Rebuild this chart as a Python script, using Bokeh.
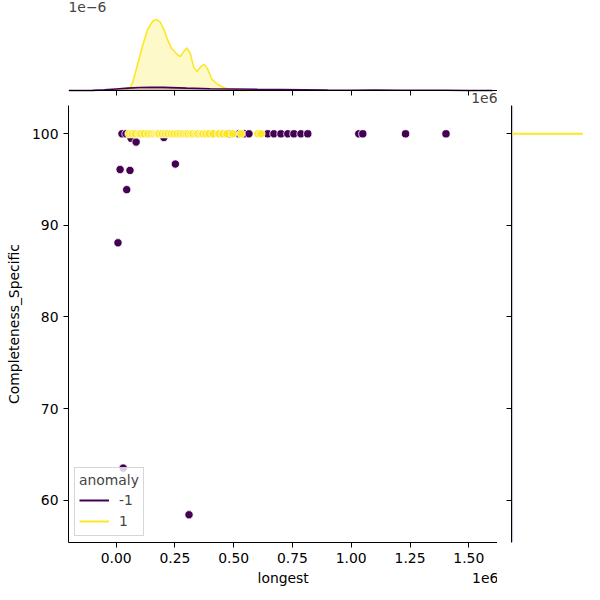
from bokeh.plotting import figure
from bokeh.layouts import column, row
from bokeh.models import Range1d, FixedTicker, Label, Legend, LegendItem, LinearAxis
from bokeh.embed import file_html
from bokeh.resources import INLINE

PURPLE = "#440154"
YELLOW = "#fde725"
FONT = "DejaVu Sans"
FS = "13.9px"
NAN = float("nan")
NBSP = "\u00a0"

# ---------------- data ----------------
# anomaly = -1
neg_longest = [25000, 42000, 412000, 446000, 480000, 522000, 544000, 565000, 645000,
               671000, 701000, 730000, 756000, 786000, 815000, 1032000, 1049000,
               1231000, 1403000,
               17000, 8000, 30000, 310000, 252000, 59000, 45000, 64000, 85000, 203000]
neg_complete = [100] * 19 + [96.1, 88.1, 63.5, 58.4, 96.7, 96.0, 93.9, 99.5, 99.1, 99.6]

# anomaly = 1
pos_longest = [55000, 68000, 81000, 98000, 106000, 119000, 135000, 149000, 161000,
               170000, 177000, 183000, 195000, 208000, 220000, 234000, 246000, 259000,
               272000, 285000, 297000, 306000, 318000, 327000, 340000, 348000, 361000,
               369000, 382000, 395000, 412000, 437000, 454000, 471000, 496000, 531000,
               603000, 616000]
pos_complete = [100] * len(pos_longest)

# marginal density of "longest" (units of 1e-6)
kde_pos_x = [20000, 42000, 60000, 71000, 92000, 113000, 135000, 156000, 170000, 188000,
             205000, 220000, 237000, 255000, 272000, 286000, 301000, 316000, 330000,
             344000, 361000, 375000, 389000, 406000, 432000, 460000, 488000, 531000, 560000]
kde_pos_y = [0.0, 0.01, 0.10, 0.28, 0.89, 1.50, 2.06, 2.31, 2.37, 2.28,
             2.00, 1.67, 1.39, 1.24, 1.13, 1.28, 1.42, 1.22, 0.78,
             0.63, 0.80, 0.87, 0.72, 0.39, 0.20, 0.09, 0.02, 0.0, 0.0]
kde_neg_x = [-200000, -100000, -50000, 0, 50000, 100000, 150000, 200000, 300000, 400000,
             500000, 600000, 700000, 800000, 900000, 1000000, 1100000, 1200000,
             1300000, 1400000, 1500000, 1600000]
kde_neg_y = [0.0, 0.005, 0.02, 0.05, 0.08, 0.10, 0.11, 0.105, 0.08, 0.06,
             0.05, 0.04, 0.035, 0.025, 0.012, 0.01, 0.012, 0.01, 0.008, 0.006, 0.002, 0.0]

# marginal density of "Completeness_Specific" (relative units)
kde_right_pos_y = [100, 100]
kde_right_pos_d = [0.0, 1.0]
kde_right_neg_y = [55.4, 103.1]
kde_right_neg_d = [0.012, 0.012]

x_ticks = [0, 250000, 500000, 750000, 1000000, 1250000, 1500000]
x_tick_labels = ["0.00", "0.25", "0.50", "0.75", "1.00", "1.25", "1.50"]
y_ticks = [60, 70, 80, 90, 100]
y_tick_labels = ["60", "70", "80", "90", "100"]

X_MIN, X_MAX = -202500, 1622000
Y_MIN, Y_MAX = 55.37, 103.09

xr = Range1d(X_MIN, X_MAX)
yr = Range1d(Y_MIN, Y_MAX)


def style_axis(ax, ticks, labels=None):
    ax.ticker = FixedTicker(ticks=ticks)
    ax.axis_line_color = "black"
    ax.axis_line_width = 1
    ax.major_tick_line_color = "black"
    ax.major_tick_line_width = 1
    ax.major_tick_out = 5
    ax.major_tick_in = 0
    ax.minor_tick_out = 0
    ax.minor_tick_in = 0
    ax.major_label_text_font = FONT
    ax.major_label_text_font_size = FS
    ax.major_label_text_color = "black"
    ax.axis_label_text_font = FONT
    ax.axis_label_text_font_style = "normal"
    ax.axis_label_text_font_size = FS
    ax.axis_label_text_color = "black"
    if labels is not None:
        ax.major_label_overrides = dict(zip(ticks, labels))
        ax.major_label_standoff = 5
    else:
        # marginal axes: tick marks only, no tick labels
        ax.major_label_overrides = {t: "" for t in ticks}
        ax.major_label_standoff = 0


# ---------------- main ----------------
p = figure(width=497, height=495, x_range=xr, y_range=yr,
           output_backend="svg", toolbar_location=None,
           min_border_left=68, min_border_right=0, min_border_top=0, min_border_bottom=58)
p.grid.visible = False
p.outline_line_color = None
style_axis(p.xaxis[0], x_ticks, x_tick_labels)
style_axis(p.yaxis[0], y_ticks, y_tick_labels)
# axis label "longest" (centred) with the offset text "1e6" at the right end of the same line
p.xaxis.axis_label = NBSP * 43 + "longest" + NBSP * 37 + "1e6"
p.xaxis.axis_label_standoff = 4
p.yaxis.axis_label = "Completeness_Specific"
p.yaxis.axis_label_standoff = 7

p.scatter(neg_longest, neg_complete, size=8.3, fill_color=PURPLE, line_color="white", line_width=0.8)
p.scatter(pos_longest, pos_complete, size=8.3, fill_color=YELLOW, line_color="white", line_width=0.8)

# legend proxies (NaN data: nothing drawn in the plot area)
l_neg = p.line([NAN], [NAN], line_color=PURPLE, line_width=2)
l_pos = p.line([NAN], [NAN], line_color=YELLOW, line_width=2)
legend = Legend(items=[LegendItem(label="-1", renderers=[l_neg]),
                       LegendItem(label="1", renderers=[l_pos])],
                location="bottom_left", title="anomaly")
legend.title_text_font = FONT
legend.title_text_font_size = FS
legend.title_text_font_style = "normal"
legend.title_standoff = 2
legend.label_text_font = FONT
legend.label_text_font_size = FS
legend.glyph_width = 30
legend.glyph_height = 20
legend.label_height = 20
legend.label_standoff = 10
legend.spacing = 1
legend.padding = 4
legend.margin = 6
legend.border_line_color = "#cccccc"
legend.border_line_alpha = 0.8
legend.background_fill_alpha = 0.8
p.add_layout(legend)

# ---------------- top marginal ----------------
pt = figure(width=497, height=105, x_range=xr, y_range=Range1d(-0.5, 3.0),
            output_backend="svg", toolbar_location=None,
            x_axis_location=None, y_axis_location=None,
            min_border_left=68, min_border_right=0, min_border_top=0, min_border_bottom=0)
pt.grid.visible = False
pt.outline_line_color = None
top_axis = LinearAxis(fixed_location=0)
style_axis(top_axis, x_ticks)
pt.add_layout(top_axis, "below")
pt.varea(x=kde_pos_x, y1=0, y2=kde_pos_y, fill_color=YELLOW, fill_alpha=0.25)
pt.line(kde_pos_x, kde_pos_y, line_color=YELLOW, line_width=1.6)
pt.varea(x=kde_neg_x, y1=0, y2=kde_neg_y, fill_color=PURPLE, fill_alpha=0.25)
pt.line(kde_neg_x, kde_neg_y, line_color=PURPLE, line_width=1.6)
pt.add_layout(Label(x=X_MIN, y=2.8, text="1e\u22126", text_align="left", text_baseline="middle",
                    text_font=FONT, text_font_size=FS))
pt.add_layout(Label(x=X_MAX, y=-0.24, text="1e6", text_align="right", text_baseline="middle",
                    text_font=FONT, text_font_size=FS))

# ---------------- right marginal ----------------
pr = figure(width=103, height=495, x_range=Range1d(0, 1.05), y_range=yr,
            output_backend="svg", toolbar_location=None, x_axis_location=None,
            min_border_left=14, min_border_right=14, min_border_top=0, min_border_bottom=58)
pr.grid.visible = False
pr.outline_line_color = None
style_axis(pr.yaxis[0], y_ticks)
pr.line(kde_right_neg_d, kde_right_neg_y, line_color=PURPLE, line_alpha=0.25, line_width=1.5)
pr.line(kde_right_pos_d, kde_right_pos_y, line_color=YELLOW, line_width=2)

layout = column(pt, row(p, pr))
open("out.html", "w").write(file_html(layout, INLINE))
